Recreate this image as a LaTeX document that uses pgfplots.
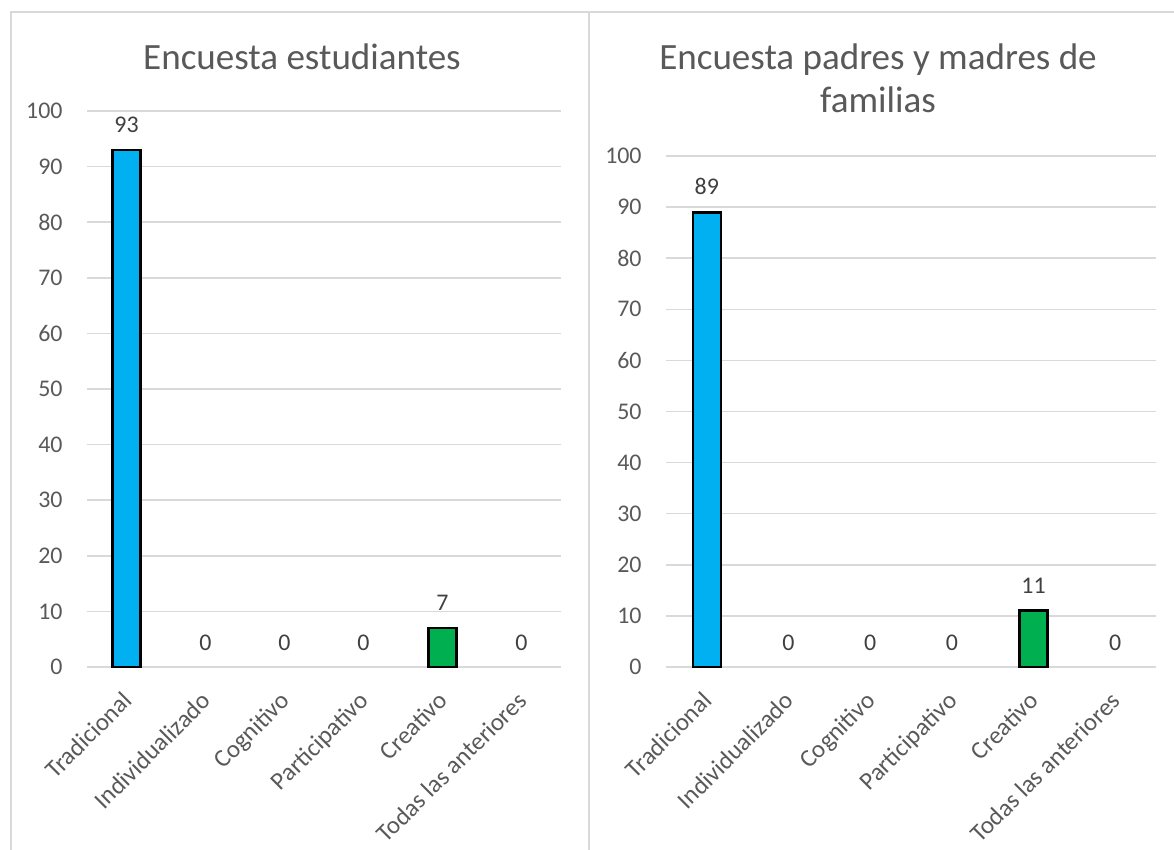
\documentclass[border=0pt]{standalone}
\usepackage{fontspec}
\setmainfont{Carlito}
\usepackage{pgfplots}
\pgfplotsset{compat=1.18}

\definecolor{txt}{HTML}{595959}
\definecolor{lbl}{HTML}{404040}
\definecolor{gridgray}{HTML}{D9D9D9}
\definecolor{azul}{HTML}{00B0F0}
\definecolor{verde}{HTML}{00B050}

\pgfplotsset{
  encuesta/.style={
    scale only axis,
    ybar, bar shift=0pt, bar width=14bp,
    xmin=-0.5, xmax=5.5, ymin=0, ymax=100,
    ytick={0,10,...,100}, xtick={0,...,5},
    xticklabels={Tradicional,Individualizado,Cognitivo,Participativo,Creativo,Todas las anteriores},
    ymajorgrids,
    major grid style={draw=gridgray, line width=0.75bp},
    axis line style={draw=none},
    major tick length=0pt,
    /pgf/number format/assume math mode=true,
    tick label style={font=\fontsize{12}{14}\selectfont, text=txt},
    yticklabel style={inner sep=0pt, xshift=-12bp},
    xticklabel style={font=\fontsize{12.5}{15}\selectfont, rotate=45, anchor=north east, inner sep=0pt, yshift=-6bp, xshift=-10bp},
    nodes near coords,
    every node near coord/.append style={font=\fontsize{12}{14}\selectfont, text=lbl, inner sep=0pt, yshift=8bp},
    clip=false,
  },
  barra/.style={draw=black, line width=1.3bp, fill=#1},
}

\begin{document}
\begin{tikzpicture}
\useasboundingbox (0,0) rectangle (587bp,425bp);
% marcos de los dos paneles
\draw[gridgray, line width=0.75bp] (5.5bp,0) -- (5.5bp,419bp) -- (587bp,419bp);
\draw[gridgray, line width=0.75bp] (294.5bp,0) -- (294.5bp,419bp);

% Encuesta estudiantes
\node[font=\fontsize{18.6}{21.5}\selectfont, text=txt] at (151bp,396.5bp) {Encuesta estudiantes};
\begin{axis}[encuesta, at={(43.5bp,91.5bp)}, anchor=south west, width=237bp, height=278bp]
\addplot[barra=azul] coordinates {(0,93)};
\addplot[barra=verde] coordinates {(4,7)};
\addplot[draw=none, fill=none] coordinates {(1,0) (2,0) (3,0) (5,0)};
\end{axis}

% Encuesta padres y madres de familias
\node[font=\fontsize{18.6}{21.5}\selectfont, text=txt, align=center] at (439bp,385.75bp) {Encuesta padres y madres de\\familias};
\begin{axis}[encuesta, at={(333bp,91.5bp)}, anchor=south west, width=245bp, height=255.5bp]
\addplot[barra=azul] coordinates {(0,89)};
\addplot[barra=verde] coordinates {(4,11)};
\addplot[draw=none, fill=none] coordinates {(1,0) (2,0) (3,0) (5,0)};
\end{axis}
\end{tikzpicture}
\end{document}
